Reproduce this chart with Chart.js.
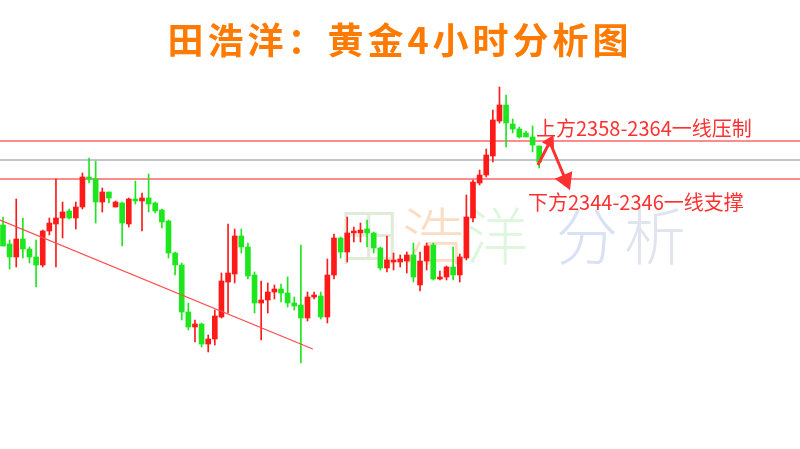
<!DOCTYPE html>
<html>
<head>
<meta charset="utf-8">
<script src="https://cdn.jsdelivr.net/npm/chart.js@4.4.1/dist/chart.umd.min.js"></script>
<style>
  body { margin: 0; background: #fff; }
  #wrap { position: relative; width: 800px; height: 449px; overflow: hidden; font-family: "Noto Sans CJK SC", sans-serif; }
  #title { position: absolute; left: 0; top: 12px; width: 800px; text-align: center; font-size: 36px; font-weight: bold; color: #ff7a00; letter-spacing: 4px; }
  .mark { position: absolute; top: 188px; font-size: 62px; font-weight: 300; }
  .note { position: absolute; font-size: 20px; color: #ff3030; white-space: nowrap; }
  canvas { position: absolute; left: 0; top: 0; }
</style>
</head>
<body>
<div id="wrap">
  <span class="mark" style="left:338px;color:#dfecda">田</span>
  <span class="mark" style="left:402px;color:#fcdcc2">浩</span>
  <span class="mark" style="left:466px;color:#ddf6dd">洋</span>
  <span class="mark" style="left:556px;color:#d9e1f5">分</span>
  <span class="mark" style="left:624px;color:#e0e4ee">析</span>
  <canvas id="c" width="800" height="449"></canvas>
  <div id="title">田浩洋：黄金4小时分析图</div>
  <div class="note" style="left:536px;top:113px">上方2358-2364一线压制</div>
  <div class="note" style="left:528px;top:187px">下方2344-2346一线支撑</div>
</div>
<script>
// 4h candles (red = up, green = down)
const opens  = [2326,2318.4,2313.2,2320.4,2316.4,2313.2,2310,2323.6,2326.4,2328.8,
  2331.6,2328.8,2333.2,2345.2,2344.4,2335.2,2339.2,2333.2,2334.8,2326.4,
  2336.4,2335.6,2336.8,2334.8,2332,2327.6,2314.8,2310,2291.2,2285.2,
  2286.4,2278.4,2280.4,2289.2,2303.2,2306.4,2321.6,2317.2,2306,2294.8,
  2296,2299.2,2300.4,2298.8,2294.8,2294,2288.8,2297.2,2297.6,2289.2,
  2306,2320.8,2315.2,2322.8,2322.8,2324.4,2322.8,2316.8,2308.8,2311.2,
  2311.2,2311.6,2314,2302,2311.6,2318,2304.4,2305.2,2309.2,2306,
  2312.8,2328.8,2342.8,2346,2353.6,2367.6,2374,2366.4,2364.4,2362.8,
  2361.2,2357.6];
const highs  = [2329.2,2320,2336.4,2328.8,2317.2,2320,2324,2328.8,2344.4,2335.2,
  2332.4,2335.2,2346.8,2352.8,2351.6,2340.8,2339.2,2335.6,2335.2,2336.8,
  2343.6,2338.8,2346.4,2335.2,2332.4,2328,2315.2,2310.8,2294.8,2288,
  2286.8,2282,2292,2306.8,2326.4,2324.4,2324.4,2318.8,2307.2,2303.6,
  2302.8,2302,2302.4,2305.2,2297.2,2318,2299.2,2299.2,2299.2,2312.4,
  2322.4,2321.2,2329.2,2325.2,2326.8,2328,2323.2,2317.2,2321.6,2314.8,
  2314,2315.2,2318.8,2315.2,2318.8,2318.8,2307.6,2309.6,2317.2,2314.4,
  2338,2344,2348,2356.4,2372,2381.2,2378,2368.4,2365.2,2363.6,
  2365.6,2357.6];
const lows   = [2317.6,2308.4,2309.2,2312.8,2310.8,2301.2,2309.2,2322,2309.2,2320.8,
  2328.4,2324.4,2332.4,2342.8,2326.8,2331.2,2334.8,2333.2,2317.6,2325.2,
  2334.4,2323.6,2331.2,2330.8,2324.8,2312.8,2306,2288,2284,2279.2,
  2277.2,2275.2,2278,2288.8,2290.8,2302.8,2314.8,2304.4,2290.8,2280,
  2290.8,2296.4,2295.2,2293.2,2292,2270.8,2287.6,2296.4,2288.4,2286.8,
  2304.4,2312.8,2311.2,2319.2,2319.2,2317.2,2314.8,2308,2307.2,2308,
  2309.2,2306.8,2303.2,2299.6,2308,2304,2304,2304,2304,2303.2,
  2312,2327.2,2342,2345.2,2351.2,2366.8,2357.2,2362.8,2360.8,2361.2,
  2355.2,2348.8];
const closes = [2317.6,2313.2,2320.4,2316.4,2313.2,2310,2323.6,2326.8,2328.8,2331.2,
  2328.8,2333.2,2345.2,2344.4,2335.2,2339.2,2336.8,2335.2,2326.8,2336.4,
  2335.6,2336.8,2334.4,2331.6,2327.2,2314.8,2310,2291.2,2285.2,2286.4,
  2278.4,2280.4,2289.6,2303.6,2306.8,2321.6,2317.2,2305.6,2294.8,2296,
  2299.2,2300.4,2298.8,2294.8,2293.6,2288.8,2297.2,2298,2289.2,2306,
  2320.8,2315.2,2322.8,2323.2,2324,2322.8,2316.8,2308.8,2312,2311.6,
  2312.4,2314,2305.2,2311.6,2317.6,2304.4,2305.2,2309.2,2306,2313.2,
  2329.2,2343.2,2346,2354,2368,2374,2366.8,2364.4,2361.2,2361.2,
  2358,2351.2];

// price levels and drawn lines
const resistance = 2359.6;
const pivot = 2352;
const support = 2344.4;
const trendX = [-0.45, 46.8];
const trendY = [2328, 2276.4];
const arrowX = [80.8, 82.6, 85.0];
const arrowY = [2350, 2359.2, 2344];

const RED = '#ff1a1a';
const GREEN = '#1ee61e';
const cols = opens.map((o, i) => closes[i] >= o ? RED : GREEN);
const bodies = opens.map((o, i) => ({x: i, y: [o, closes[i]]}));
const wicks = opens.map((o, i) => ({x: i, y: [lows[i], highs[i]]}));

const hline = v => [{x: -2, y: v}, {x: 125, y: v}];
const pts = (xs, ys) => xs.map((x, i) => ({x: x, y: ys[i]}));

const chart = new Chart(document.getElementById('c'), {
  type: 'bar',
  data: {
    datasets: [
      {data: bodies, backgroundColor: cols, barThickness: 5, minBarLength: 2, order: 1},
      {data: wicks, backgroundColor: cols, barThickness: 1, order: 2},
      {type: 'line', data: hline(resistance), borderColor: '#ff6666', borderWidth: 1.5, pointRadius: 0, order: 3},
      {type: 'line', data: hline(pivot), borderColor: '#a9b3bf', borderWidth: 1.5, pointRadius: 0, order: 3},
      {type: 'line', data: hline(support), borderColor: '#ff6666', borderWidth: 1.5, pointRadius: 0, order: 3},
      {type: 'line', data: pts(trendX, trendY), borderColor: '#ff4d4d', borderWidth: 1.3, pointRadius: 0, order: 0},
      {type: 'line', data: pts(arrowX, arrowY), borderColor: '#ff3030', borderWidth: 3, backgroundColor: '#ff3030',
        pointStyle: 'triangle', pointRadius: [0, 5, 8], pointRotation: [0, 28, 157], order: 0}
    ]
  },
  options: {
    responsive: false,
    animation: false,
    grouped: false,
    layout: {padding: 0, autoPadding: false},
    plugins: {legend: {display: false}, tooltip: {enabled: false}},
    scales: {
      x: {type: 'linear', display: false, offset: false, min: -0.453, max: 120.4},
      y: {display: false, min: 2236.4, max: 2416}
    }
  }
});
</script>
</body>
</html>
